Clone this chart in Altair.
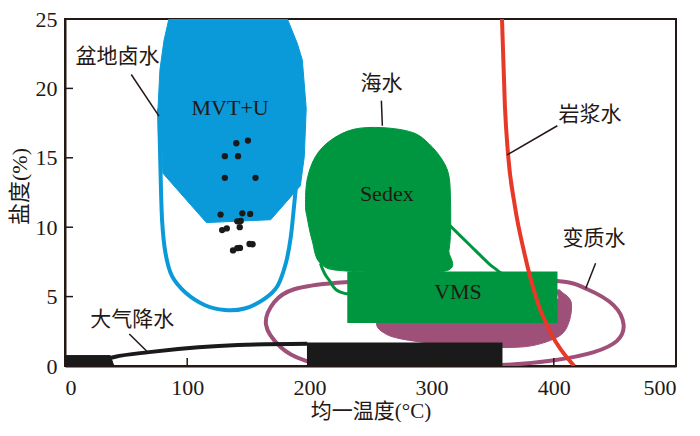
import altair as alt
import pandas as pd

# ---------------- data ----------------
x_tick_values = [0, 100, 200, 300, 400, 500]
y_tick_values = [0, 5, 10, 15, 20, 25]
x_inner_ticks = [100, 200, 300, 400]
y_inner_ticks = [5, 10, 15, 20]

# MVT+U filled field (blue)
mvt_x = [85, 81, 77.7, 76.1, 76.5, 79.3, 80.1, 115.7, 168.3, 187.7, 192.6, 195.8, 197.4, 194.2, 190.1, 182.0]
mvt_y = [25, 23.45, 21.35, 18.56, 16.5, 15.63, 13.89, 10.33, 10.54, 12.49, 12.98, 15.07, 18.56, 22.05, 23.24, 25]

# basin brine outline (light blue)
brine_x = [76.9, 77.7, 78.2, 79.5, 82.3, 87.6, 98.5, 114.6, 130.8, 147.0, 163.2, 173.9, 180.7, 184.7, 187.5, 188.8]
brine_y = [18.56, 15.77, 13.91, 10.42, 8.09, 6.47, 5.30, 4.38, 4.03, 4.14, 4.84, 5.77, 7.40, 9.26, 11.58, 12.75]

# inclusion data points
pts_x = [140.2, 149.7, 130.8, 141.6, 130.8, 155.9, 127.3, 145.1, 151.5, 141.0, 143.8, 143.0, 128.6, 132.4, 137.5, 141.0, 143.2, 151.0, 153.5]
pts_y = [16.05, 16.24, 15.12, 15.12, 13.56, 13.56, 10.91, 11.0, 10.96, 10.42, 10.45, 10.0, 9.79, 9.91, 8.33, 8.49, 8.51, 8.79, 8.77]

# Sedex field (green)
sedex_x = [260.3, 284.5, 298.0, 308.8, 314.2, 315.5, 315.5, 314.2, 310.1, 230.6, 209.0, 202.3, 198.2, 196.8, 198.2, 204.9, 217.1, 236.0]
sedex_y = [17.17, 16.82, 16.00, 14.84, 13.68, 11.81, 9.72, 8.33, 6.82, 6.84, 7.40, 9.02, 10.68, 11.58, 13.45, 15.07, 16.24, 17.05]

# seawater outline (green)
sea_x = [209.0, 215.8, 232.0, 300.0, 365.0, 354.7, 346.6, 330.4, 314.2]
sea_y = [7.40, 6.23, 5.18, 5.0, 5.9, 6.82, 7.40, 8.79, 10.19]

# VMS box (green)
vms_x = [231]
vms_x2 = [403]
vms_y = [3.1]
vms_y2 = [6.8]

# metamorphic filled field (purple)
meta_x = [254.9, 261.3, 275.1, 303.4, 335.8, 358.4, 382.7, 404.5, 412.6, 414.2, 407.0, 402.1, 390.0, 260.0]
meta_y = [3.07, 2.37, 1.95, 1.61, 1.40, 1.33, 1.47, 2.16, 3.21, 4.61, 5.30, 5.44, 4.5, 4.5]

# metamorphic water outline (purple)
ell_x = [164.5, 171.3, 187.5, 222.5, 271.0, 335.8, 402.7, 427.4, 449.0, 457.1, 451.7, 432.8, 400.5, 357.4, 287.2, 222.5, 195.6, 176.6]
ell_y = [2.98, 4.61, 5.53, 6.00, 6.14, 6.21, 6.12, 5.53, 4.37, 2.98, 1.81, 1.00, 0.42, 0.07, 0.0, 0.0, 0.42, 1.35]

# magmatic water curve (red)
magma_x = [357.6, 360.0, 362.5, 368.0, 376.0, 386.7, 398.0, 416.7]
magma_y = [25, 18.7, 15.3, 11.6, 8.1, 4.6, 2.3, 0.0]

# meteoric water (black)
rain_block_x = [0, 0, 37, 40]
rain_block_y = [0, 0.75, 0.75, 0]
rain_line_x = [36, 40.5, 68.8, 109.2, 141.6, 198.2]
rain_line_y = [0.55, 0.65, 1.0, 1.35, 1.51, 1.6]
rain_box_x = [198]
rain_box_x2 = [358]
rain_box_y = [0]
rain_box_y2 = [1.7]

# leader lines
lead_x = [54.2, 258.9, 402.9, 434.2, 52.6]
lead_y = [21.0, 19.12, 17.31, 7.40, 2.30]
lead_x2 = [76.9, 259.7, 361.7, 426.1, 67.2]
lead_y2 = [18.0, 17.31, 15.21, 5.58, 1.05]

# labels
cn_text = ["盆地卤水", "海水", "岩浆水", "变质水", "大气降水"]
cn_x = [42.9, 258.9, 429.6, 432.8, 55.0]
cn_y = [22.26, 20.31, 18.07, 9.14, 3.35]
en_text = ["MVT+U", "Sedex", "VMS"]
en_x = [135.1, 263.3, 321.6]
en_y = [18.6, 12.40, 5.30]

# ---------------- styling ----------------
INK = "#231815"
BLUE = "#0A9AD9"
GREEN = "#00963F"
PURPLE = "#9E5079"
RED = "#E83828"
BLACK = "#1A1A1A"
SERIF = "Liberation Serif"
CJK = "Noto Sans CJK SC"

PLOT_W = 611
PLOT_H = 347

xscale = alt.Scale(domain=[0, 500], nice=False, zero=False)
yscale = alt.Scale(domain=[0, 25], nice=False, zero=False)
xaxis = alt.Axis(values=x_tick_values, title="均一温度(°C)", ticks=False, tickSize=0, grid=False,
                 labelFont=SERIF, labelFontSize=22, labelColor=INK, labelPadding=11,
                 domainColor=INK, domainWidth=2,
                 titleFont=SERIF + ", " + CJK, titleFontSize=21, titleFontWeight="normal",
                 titleColor=INK, titleY=45, titleBaseline="middle")
yaxis = alt.Axis(values=y_tick_values, title="盐度(%)", ticks=False, tickSize=0, grid=False,
                 labelFont=SERIF, labelFontSize=22, labelColor=INK, labelPadding=8,
                 domainColor=INK, domainWidth=2,
                 titleFont=SERIF + ", " + CJK, titleFontSize=22, titleFontWeight="normal",
                 titleColor=INK, titleX=-46, titleY=167, titleAngle=270,
                 titleAlign="center", titleBaseline="middle")


def X(f):
    return alt.X(f, type="quantitative", scale=xscale, axis=xaxis)


def Y(f):
    return alt.Y(f, type="quantitative", scale=yscale, axis=yaxis)


def frame(xs, ys):
    return pd.DataFrame({"x": xs, "y": ys, "i": list(range(len(xs)))})


def polygon(xs, ys, color, interp="linear-closed"):
    return alt.Chart(frame(xs, ys)).mark_line(
        fill=color, stroke=color, strokeWidth=1, interpolate=interp, clip=True
    ).encode(x=X("x"), y=Y("y"), order=alt.Order("i:Q"))


def path(xs, ys, color, width, interp="linear"):
    return alt.Chart(frame(xs, ys)).mark_line(
        color=color, strokeWidth=width, interpolate=interp, clip=True
    ).encode(x=X("x"), y=Y("y"), order=alt.Order("i:Q"))


def box(x, x2, y, y2, color):
    df = pd.DataFrame({"x": x, "x2": x2, "y": y, "y2": y2})
    return alt.Chart(df).mark_rect(color=color, clip=True).encode(
        x=X("x"), x2="x2", y=Y("y"), y2="y2")


brine = path(brine_x, brine_y, BLUE, 4, "cardinal")
mvt = polygon(mvt_x, mvt_y, BLUE)
points = alt.Chart(frame(pts_x, pts_y)).mark_circle(color=BLACK, size=40, opacity=1).encode(
    x=X("x"), y=Y("y"))
ellipse = path(ell_x, ell_y, PURPLE, 4, "cardinal-closed")
sea = path(sea_x, sea_y, GREEN, 3, "cardinal")
meta = polygon(meta_x, meta_y, PURPLE, "cardinal-closed")
sedex = polygon(sedex_x, sedex_y, GREEN, "cardinal-closed")
vms = box(vms_x, vms_x2, vms_y, vms_y2, GREEN)
rain_block = polygon(rain_block_x, rain_block_y, BLACK)
rain_line = path(rain_line_x, rain_line_y, BLACK, 4, "monotone")
rain_box = box(rain_box_x, rain_box_x2, rain_box_y, rain_box_y2, BLACK)
magma = path(magma_x, magma_y, RED, 4, "monotone")

leaders = alt.Chart(pd.DataFrame({"x": lead_x, "y": lead_y, "x2": lead_x2, "y2": lead_y2})).mark_rule(
    color=INK, strokeWidth=1.5).encode(x=X("x"), y=Y("y"), x2="x2", y2="y2")

cn_labels = alt.Chart(pd.DataFrame({"x": cn_x, "y": cn_y, "t": cn_text})).mark_text(
    font=CJK, fontSize=21, color=INK, align="center", baseline="middle").encode(
    x=X("x"), y=Y("y"), text="t:N")
en_labels = alt.Chart(pd.DataFrame({"x": en_x, "y": en_y, "t": en_text})).mark_text(
    font=SERIF, fontSize=22, color=INK, align="center", baseline="middle").encode(
    x=X("x"), y=Y("y"), text="t:N")

xticks = alt.Chart(pd.DataFrame({"t": x_inner_ticks})).mark_rule(color=INK, strokeWidth=1.5).encode(
    x=X("t"), y=alt.value(PLOT_H), y2=alt.value(PLOT_H - 8))
yticks = alt.Chart(pd.DataFrame({"t": y_inner_ticks})).mark_rule(color=INK, strokeWidth=1.5).encode(
    y=Y("t"), x=alt.value(0), x2=alt.value(8))

chart = alt.layer(
    brine, mvt, points, ellipse, sea, meta, sedex, vms,
    rain_block, rain_line, rain_box, magma, leaders, cn_labels, en_labels, xticks, yticks
).properties(
    width=PLOT_W, height=PLOT_H,
    padding={"left": 57, "top": 11, "right": 16, "bottom": 56},
    autosize=alt.AutoSizeParams(type="none"),
    background="white",
).configure_view(stroke=INK, strokeWidth=2)

chart.save("out.html", embed_options={"renderer": "svg", "actions": False})
